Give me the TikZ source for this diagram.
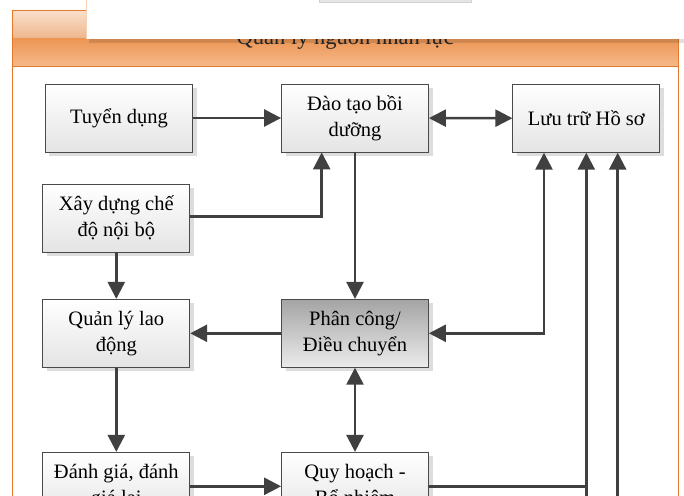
\documentclass[tikz,border=0pt]{standalone}
\usepackage{fontspec}
\setmainfont{Liberation Serif}
\usetikzlibrary{arrows.meta,shadows}

\definecolor{edge}{HTML}{4A4A4A}
\definecolor{wire}{HTML}{404040}
\definecolor{frameorange}{HTML}{E3782A}
\definecolor{headlighttop}{HTML}{F9DFCA}
\definecolor{headlightbot}{HTML}{EEB68C}
\definecolor{headdarktop}{HTML}{EC9655}
\definecolor{headdarkbot}{HTML}{F6B98A}
\definecolor{boxgrey}{HTML}{E4E4E4}
\definecolor{darkgreytop}{HTML}{A4A4A4}
\definecolor{darkgreybot}{HTML}{EBEBEB}
\definecolor{shadowgrey}{HTML}{DDDDDD}

\newcommand\diagfont{\fontsize{20.5bp}{26bp}\selectfont}
\newcommand\headfont{\fontsize{22.5bp}{26bp}\selectfont}

\begin{document}
\begin{tikzpicture}[x=1bp,y=-1bp,
  boxstyle/.style={draw=edge, line width=0.8bp, minimum width=147bp,
    minimum height=68bp, inner sep=2bp, align=center,
    top color=white, bottom color=boxgrey, font=\diagfont,
    drop shadow={shadow xshift=4bp, shadow yshift=-4bp, fill=shadowgrey, opacity=1}},
  darkbox/.style={boxstyle, top color=darkgreytop, bottom color=darkgreybot},
  tipshape/.tip={Triangle[length=17bp,width=17bp]},
  wirestyle/.style={draw=wire, line width=2.5bp, -tipshape},
  twoway/.style={draw=wire, line width=2.5bp, tipshape-tipshape},
  plainwire/.style={draw=wire, line width=2.5bp}
]
\useasboundingbox (0,0) rectangle (684,496);
\clip (0,0) rectangle (684,496);
\fill[white] (0,0) rectangle (684,496);

% outer frame and its header band
\shade[top color=headlighttop, bottom color=headlightbot] (12.3,10.7) rectangle (678.3,38.5);
\shade[top color=headdarktop, bottom color=headdarkbot] (12.3,38.5) rectangle (678.3,66.7);
\draw[frameorange, line width=1.3bp] (12.3,10.7) rectangle (678.3,530);
\draw[frameorange, line width=1.3bp] (12.3,66.7) -- (678.3,66.7);
\node[font=\headfont, text=black!85] (head) at (345.3,38.7) {Quản lý nguồn nhân lực};

% white panel lying over the top of the frame
\fill[black, opacity=0.12] (89,39) rectangle (684,43);
\fill[white] (86,-1) rectangle (685,39);
\draw[frameorange!35, line width=0.8bp] (86,-1) -- (86,39);
\filldraw[fill=black!10, draw=black!18, line width=0.6bp] (319,-1) rectangle (471,2.7);

% boxes
\node[boxstyle] (tuyen) at (119,118) {Tuyển dụng};
\node[boxstyle] (daotao) at (355,118) {Đào tạo bồi\\dưỡng};
\node[boxstyle] (luutru) at (586.3,118.3) {Lưu trữ Hồ sơ};
\node[boxstyle] (xaydung) at (116.3,218) {Xây dựng chế\\độ nội bộ};
\node[boxstyle] (quanly) at (116.3,333.3) {Quản lý lao\\động};
\node[darkbox] (phancong) at (355,333.3) {Phân công/\\Điều chuyển};
\node[boxstyle] (danhgia) at (116.3,486.3) {Đánh giá, đánh\\giá lại};
\node[boxstyle] (quyhoach) at (355,486.3) {Quy hoạch -\\Bổ nhiệm};

% free ends of the feeds that come up from below
\coordinate (feedA) at (586.3,510);
\coordinate (feedB) at (617.7,510);

% connectors
\draw[wirestyle] (tuyen) -- (daotao);
\draw[twoway] (daotao) -- (luutru);
\draw[wirestyle] ([yshift=1.3bp]xaydung.east) -| ([xshift=-33.3bp]daotao.south);
\draw[wirestyle] (daotao) -- (phancong);
\draw[wirestyle] (xaydung) -- (quanly);
\draw[wirestyle] (phancong) -- (quanly);
\draw[twoway] ([xshift=-42.3bp]luutru.south) |- (phancong.east);
\draw[wirestyle] (quanly) -- (danhgia);
\draw[twoway] (phancong) -- (quyhoach);
\draw[wirestyle] (danhgia) -- (quyhoach);
\draw[plainwire] (quyhoach.east) -- (quyhoach.east -| feedA);
\draw[wirestyle] (feedA) -- (luutru.south);
\draw[wirestyle] (feedB) -- (feedB |- luutru.south);
\end{tikzpicture}
\end{document}
